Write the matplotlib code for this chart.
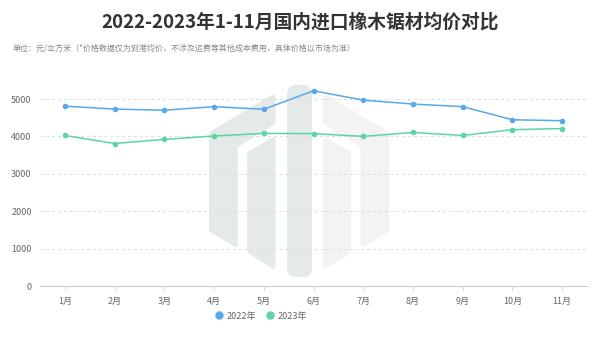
import matplotlib
matplotlib.use("Agg")
import matplotlib.pyplot as plt
from matplotlib.patches import Polygon, FancyBboxPatch
from matplotlib.lines import Line2D

plt.rcParams['font.family'] = ['Noto Sans CJK SC', 'DejaVu Sans']

months = ['1月', '2月', '3月', '4月', '5月', '6月', '7月', '8月', '9月', '10月', '11月']
price_2022 = [4810, 4730, 4700, 4795, 4725, 5220, 4970, 4865, 4795, 4445, 4420]
price_2023 = [4025, 3810, 3920, 4010, 4080, 4075, 4000, 4105, 4025, 4180, 4210]
series_names = ['2022年', '2023年']
yticks = [0, 1000, 2000, 3000, 4000, 5000]

BLUE = '#58a8ea'
GREEN = '#5dd4a4'

W, H = 600, 341
fig = plt.figure(figsize=(W / 100, H / 100), dpi=100)

# watermark layer in pixel coordinates (y from top)
bg = fig.add_axes([0, 0, 1, 1], zorder=0)
bg.set_xlim(0, W)
bg.set_ylim(H, 0)
bg.axis('off')


def zpt(pts):
    # points read from a 3x zoom starting at (190, 70)
    return [(x / 3 + 190, y / 3 + 70) for x, y in pts]


def mirror(pts, cx=327.5):
    return [(2 * cx - x, y) for x, y in pts]


outer = [(63, 190), (250, 80), (250, 158), (137, 228), (137, 525), (63, 480)]
inner = [(178, 250), (250, 208), (250, 590), (178, 545)]
for shape, col in [(outer, '#e4e9e9'), (inner, '#e4e9e9'),
                   (mirror(outer), '#f4f3f1'), (mirror(inner), '#f4f3f1')]:
    bg.add_patch(Polygon(zpt(shape), closed=True, fc=col, ec=col, lw=3,
                         joinstyle='round'))
bg.add_patch(FancyBboxPatch((290, 88), 19, 186,
                            boxstyle='round,pad=3,rounding_size=9',
                            fc='#e4e9e9', ec='none'))

ax = fig.add_axes([40 / W, (H - 286) / H, 547 / W, 187 / H], zorder=1)
ax.patch.set_alpha(0)
x = list(range(len(months)))
ax.plot(x, price_2022, color=BLUE, lw=1.1, marker='o', ms=3, clip_on=False, zorder=3)
ax.plot(x, price_2023, color=GREEN, lw=1.1, marker='o', ms=3, clip_on=False, zorder=3)

ax.set_xlim(-0.5, len(months) - 0.5)
ax.set_ylim(0, 5000)
ax.set_xticks(x)
ax.set_xticklabels(months)
ax.set_yticks(yticks)
ax.tick_params(axis='x', length=3, width=0.6, color='#cccccc', labelsize=6.5,
               labelcolor='#666666', pad=5)
ax.tick_params(axis='y', length=0, labelsize=6.5, labelcolor='#666666', pad=6)
for v in yticks[1:]:
    ax.axhline(v, color='#dddddd', lw=0.7, ls=(0, (3, 3)), zorder=1)
for s in ['top', 'right', 'left']:
    ax.spines[s].set_visible(False)
ax.spines['bottom'].set_color('#cccccc')
ax.spines['bottom'].set_linewidth(0.8)

fig.text(0.5, 1 - 22 / H, '2022-2023年1-11月国内进口橡木锯材均价对比',
         ha='center', va='center', fontsize=13.5, fontweight='bold', color='#333333')
fig.text(13 / W, 1 - 48 / H,
         '单位：元/立方米（*价格数据仅为到港均价，不涉及运费等其他成本费用，具体价格以市场为准）',
         ha='left', va='center', fontsize=5.75, color='#888888')

handles = [Line2D([], [], ls='none', marker='o', ms=5, color=c) for c in (BLUE, GREEN)]
fig.legend(handles, series_names, loc='center', bbox_to_anchor=(261 / W, 1 - 316 / H),
           ncol=2, frameon=False, fontsize=6.5, handletextpad=0.3, columnspacing=1.1,
           handlelength=1.0, labelcolor='#666666')

fig.savefig('out.png', dpi=100)
